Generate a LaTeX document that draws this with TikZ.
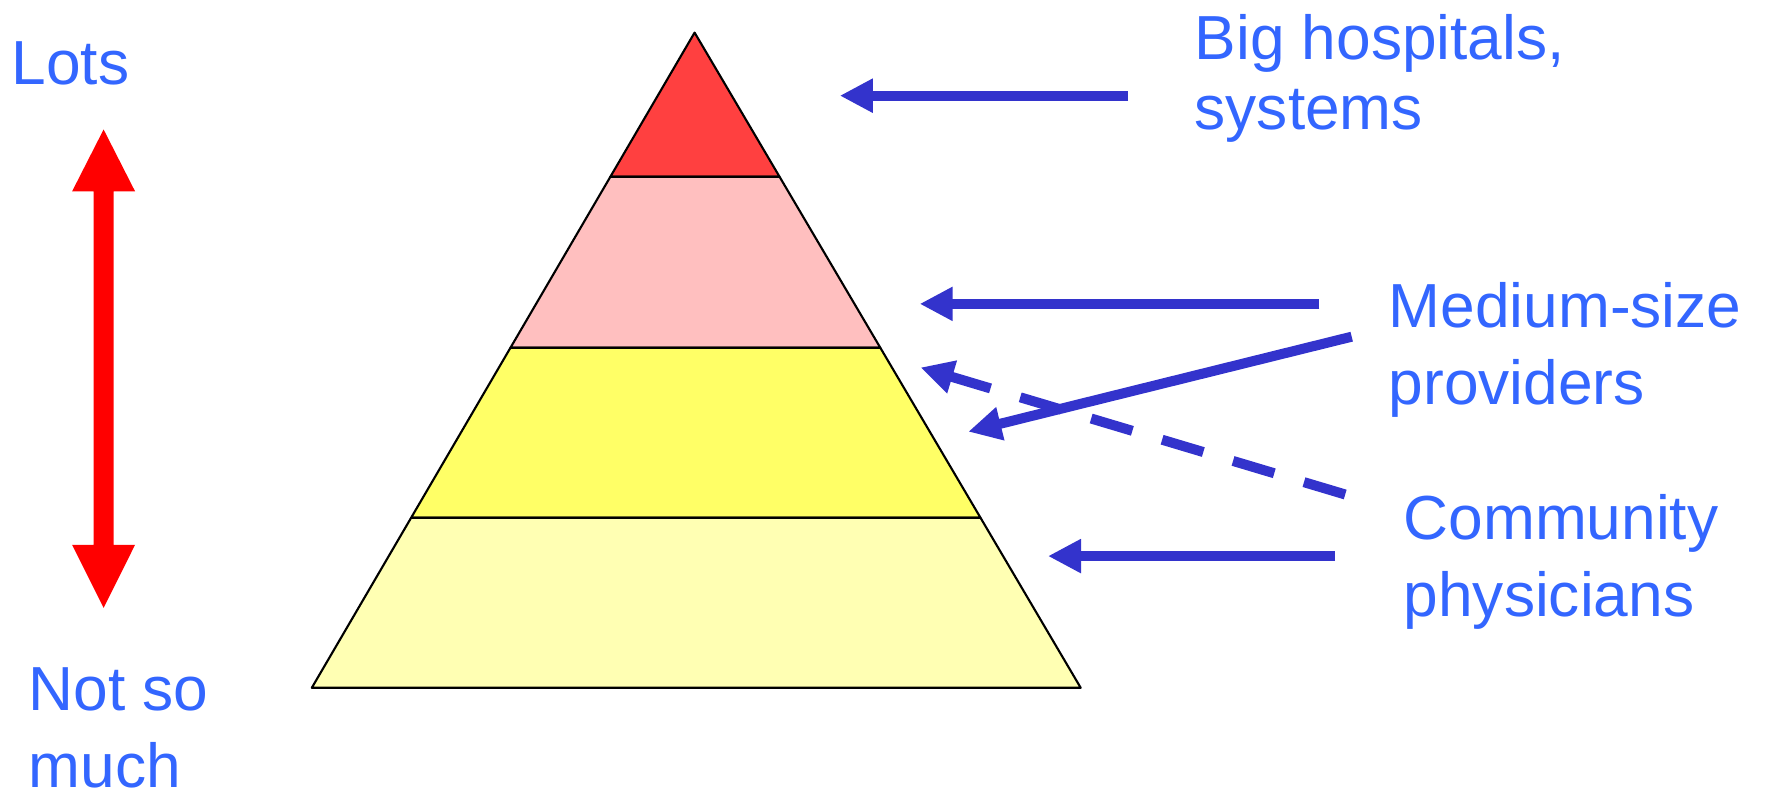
\documentclass[tikz,border=0pt]{standalone}
\usepackage{fontspec}
\setmainfont{Liberation Sans}
\usetikzlibrary{arrows.meta,calc}

\definecolor{scalered}{RGB}{255,0,0}
\definecolor{textblue}{RGB}{51,102,255}
\definecolor{pointblue}{RGB}{51,51,204}
\definecolor{tiertop}{RGB}{255,64,64}
\definecolor{tiermid}{RGB}{255,191,191}
\definecolor{tierlow}{RGB}{255,255,102}
\definecolor{tierbase}{RGB}{255,255,179}

\begin{document}
\begin{tikzpicture}[x=0.01cm, y=-0.01cm,
    sidetext/.style={text=textblue, font=\fontsize{17.7}{22}\selectfont, align=left, inner sep=0pt, anchor=base west},
    tier/.style={draw=black, line width=0.6pt, line join=round},
    pointer/.style={draw=pointblue, line width=0.1cm, -{Triangle[length=0.33cm, width=0.32cm]}}
]
\useasboundingbox (0,0) rectangle (1765,792);

% Pyramid tiers
\coordinate (apex) at (694.6,32.6);
\coordinate (bl) at (311.8,687.8);
\coordinate (br) at (1080.7,687.8);
\foreach \t/\n in {0.22/1, 0.481/2, 0.7405/3} {
    \coordinate (l\n) at ($(apex)!\t!(bl)$);
    \coordinate (r\n) at ($(apex)!\t!(br)$);
}
\filldraw[tier, fill=tiertop] (apex) -- (r1) -- (l1) -- cycle;
\filldraw[tier, fill=tiermid] (l1) -- (r1) -- (r2) -- (l2) -- cycle;
\filldraw[tier, fill=tierlow] (l2) -- (r2) -- (r3) -- (l3) -- cycle;
\filldraw[tier, fill=tierbase] (l3) -- (r3) -- (br) -- (bl) -- cycle;

% Scale arrow (red, both ways)
\fill[scalered] (103.6,129.5) -- (135.1,191.4) -- (113.7,191.4) -- (113.7,544.8) -- (135.1,544.8)
    -- (103.6,607.9) -- (72.1,544.8) -- (93.5,544.8) -- (93.5,191.4) -- (72.1,191.4) -- cycle;

% Labels (base = baseline of the last line)
\node[sidetext] (lots) at (11,85) {Lots};
\node[sidetext] (notmuch) at (28,788) {Not so\\much};
\node[sidetext, font=\fontsize{17.7}{20}\selectfont] (big) at (1194,130) {Big hospitals,\\systems};
\node[sidetext] (medium) at (1388,405) {Medium-size\\providers};
\node[sidetext] (community) at (1403,617) {Community\\physicians};

% Pointers to the tiers
\coordinate (bigtail) at (1128,95.7);
\coordinate (bigtip) at (839.8,95.7);
\coordinate (medtail) at (1319.3,303.9);
\coordinate (medtip) at (919.7,303.9);
\coordinate (medlowtail) at (1351.7,336.7);
\coordinate (medlowtip) at (968.3,431.7);
\coordinate (comuptail) at (1345.2,494.5);
\coordinate (comuptip) at (920.5,367.5);
\coordinate (comtail) at (1335.1,556.1);
\coordinate (comtip) at (1048,556.1);

\draw[pointer] (bigtail) -- (bigtip);
\draw[pointer] (medtail) -- (medtip);
\draw[pointer] (medlowtail) -- (medlowtip);
\draw[pointer, dash pattern=on 0.43cm off 0.31cm] (comuptail) -- (comuptip);
\draw[pointer] (comtail) -- (comtip);

\end{tikzpicture}
\end{document}
